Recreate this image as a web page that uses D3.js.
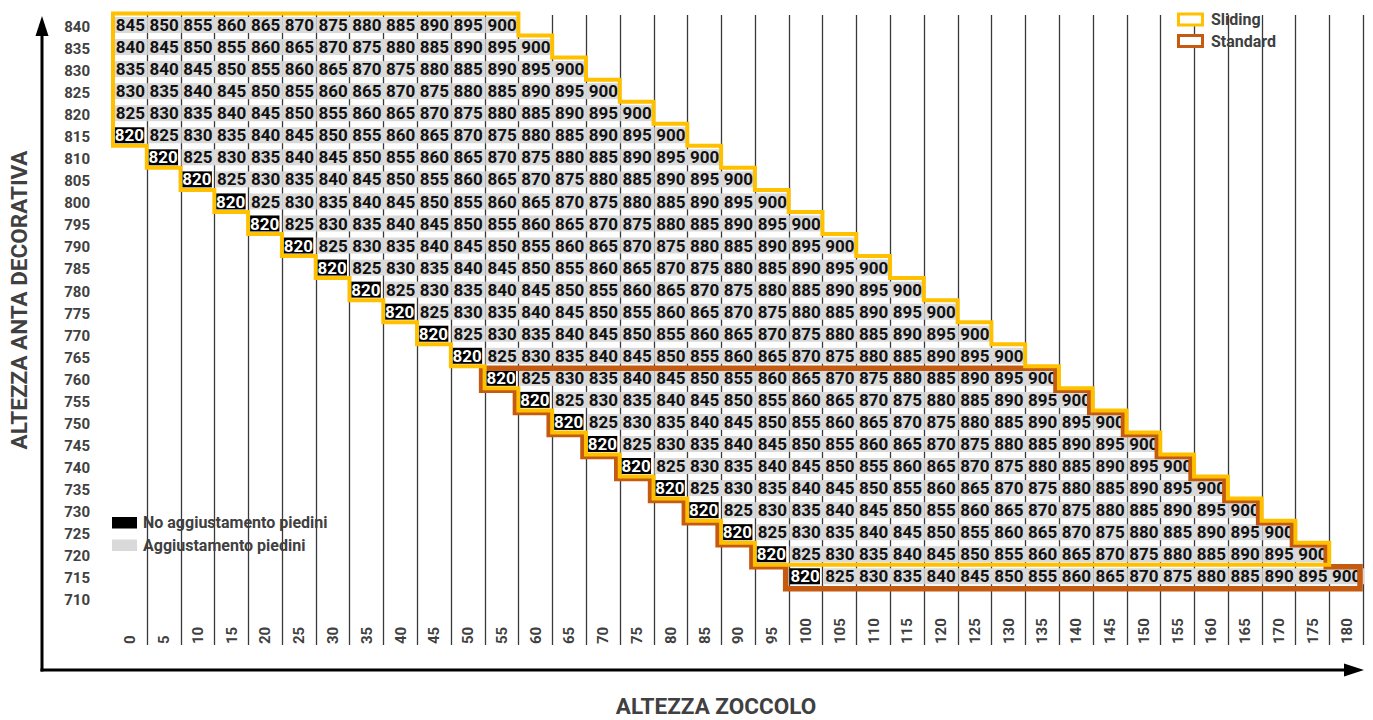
<!DOCTYPE html>
<html>
<head>
<meta charset="utf-8">
<script src="https://cdn.jsdelivr.net/npm/d3@7"></script>
<style>
  body { margin: 0; background: #fff; }
  svg { display: block; font-family: Roboto, "Noto Sans", sans-serif; }
</style>
</head>
<body>
<svg width="1373" height="720"></svg>
<script>
// ---- data ----
const rowLabels = [840, 835, 830, 825, 820, 815, 810, 805, 800, 795, 790, 785, 780, 775,
  770, 765, 760, 755, 750, 745, 740, 735, 730, 725, 720, 715, 710];
const colLabels = [0, 5, 10, 15, 20, 25, 30, 35, 40, 45, 50, 55, 60, 65, 70, 75, 80, 85, 90,
  95, 100, 105, 110, 115, 120, 125, 130, 135, 140, 145, 150, 155, 160, 165, 170, 175, 180];

// first column (zoccolo) where each row of values begins
const rowStartCol = [0, 0, 0, 0, 0, 0, 5, 10, 15, 20, 25, 30, 35, 40, 45, 50, 55, 60, 65, 70,
  75, 80, 85, 90, 95, 100, null];

const rowValues = [
  [845, 850, 855, 860, 865, 870, 875, 880, 885, 890, 895, 900],
  [840, 845, 850, 855, 860, 865, 870, 875, 880, 885, 890, 895, 900],
  [835, 840, 845, 850, 855, 860, 865, 870, 875, 880, 885, 890, 895, 900],
  [830, 835, 840, 845, 850, 855, 860, 865, 870, 875, 880, 885, 890, 895, 900],
  [825, 830, 835, 840, 845, 850, 855, 860, 865, 870, 875, 880, 885, 890, 895, 900],
  [820, 825, 830, 835, 840, 845, 850, 855, 860, 865, 870, 875, 880, 885, 890, 895, 900],
  [820, 825, 830, 835, 840, 845, 850, 855, 860, 865, 870, 875, 880, 885, 890, 895, 900],
  [820, 825, 830, 835, 840, 845, 850, 855, 860, 865, 870, 875, 880, 885, 890, 895, 900],
  [820, 825, 830, 835, 840, 845, 850, 855, 860, 865, 870, 875, 880, 885, 890, 895, 900],
  [820, 825, 830, 835, 840, 845, 850, 855, 860, 865, 870, 875, 880, 885, 890, 895, 900],
  [820, 825, 830, 835, 840, 845, 850, 855, 860, 865, 870, 875, 880, 885, 890, 895, 900],
  [820, 825, 830, 835, 840, 845, 850, 855, 860, 865, 870, 875, 880, 885, 890, 895, 900],
  [820, 825, 830, 835, 840, 845, 850, 855, 860, 865, 870, 875, 880, 885, 890, 895, 900],
  [820, 825, 830, 835, 840, 845, 850, 855, 860, 865, 870, 875, 880, 885, 890, 895, 900],
  [820, 825, 830, 835, 840, 845, 850, 855, 860, 865, 870, 875, 880, 885, 890, 895, 900],
  [820, 825, 830, 835, 840, 845, 850, 855, 860, 865, 870, 875, 880, 885, 890, 895, 900],
  [820, 825, 830, 835, 840, 845, 850, 855, 860, 865, 870, 875, 880, 885, 890, 895, 900],
  [820, 825, 830, 835, 840, 845, 850, 855, 860, 865, 870, 875, 880, 885, 890, 895, 900],
  [820, 825, 830, 835, 840, 845, 850, 855, 860, 865, 870, 875, 880, 885, 890, 895, 900],
  [820, 825, 830, 835, 840, 845, 850, 855, 860, 865, 870, 875, 880, 885, 890, 895, 900],
  [820, 825, 830, 835, 840, 845, 850, 855, 860, 865, 870, 875, 880, 885, 890, 895, 900],
  [820, 825, 830, 835, 840, 845, 850, 855, 860, 865, 870, 875, 880, 885, 890, 895, 900],
  [820, 825, 830, 835, 840, 845, 850, 855, 860, 865, 870, 875, 880, 885, 890, 895, 900],
  [820, 825, 830, 835, 840, 845, 850, 855, 860, 865, 870, 875, 880, 885, 890, 895, 900],
  [820, 825, 830, 835, 840, 845, 850, 855, 860, 865, 870, 875, 880, 885, 890, 895, 900],
  [820, 825, 830, 835, 840, 845, 850, 855, 860, 865, 870, 875, 880, 885, 890, 895, 900],
  []
];

const noAdjustValue = 820;
const slidingRows = [840, 835, 830, 825, 820, 815, 810, 805, 800, 795, 790, 785, 780, 775,
  770, 765, 760, 755, 750, 745, 740, 735, 730, 725, 720];
const standardRows = [760, 755, 750, 745, 740, 735, 730, 725, 720, 715];

const legendItems = ["Sliding", "Standard"];
const cellLegend = ["No aggiustamento piedini", "Aggiustamento piedini"];

// ---- drawing ----
const svg = d3.select("svg");
const labelColor = "#404040";
const yellow = "#FFC000";
const orange = "#C55A11";

const x = d3.scaleBand().domain(colLabels).range([113, 1363]);
const y = d3.scaleBand().domain(rowLabels).range([14, 14 + 27 * 22.05]);

// build cell list
const cells = [];
rowLabels.forEach((r, i) => {
  rowValues[i].forEach((v, j) => {
    cells.push({ row: r, col: rowStartCol[i] + 5 * j, value: v });
  });
});

// vertical column separators
svg.append("g")
  .selectAll("line")
  .data(colLabels)
  .enter()
  .append("line")
  .attr("x1", (d) => Math.round(x(d) + x.bandwidth()) + 0.5)
  .attr("x2", (d) => Math.round(x(d) + x.bandwidth()) + 0.5)
  .attr("y1", 15)
  .attr("y2", 645)
  .attr("stroke", "#3a3a3a")
  .attr("stroke-width", 1.3);

// cells
const cellG = svg.append("g");
const cellH = 16;

cellG.selectAll("rect")
  .data(cells)
  .enter()
  .append("rect")
  .attr("x", (d) => x(d.col) + 1)
  .attr("y", (d) => y(d.row) + y.bandwidth() / 2 - cellH / 2)
  .attr("width", (d) => d.value === noAdjustValue ? x.bandwidth() - 3.5 : x.bandwidth())
  .attr("height", cellH)
  .attr("fill", (d) => d.value === noAdjustValue ? "#000" : "#D9D9D9");

cellG.selectAll("text")
  .data(cells)
  .enter()
  .append("text")
  .attr("x", (d) => x(d.col) + x.bandwidth() / 2 + (d.value === noAdjustValue ? -0.5 : 0.5))
  .attr("y", (d) => y(d.row) + y.bandwidth() / 2)
  .attr("dy", "0.36em")
  .attr("text-anchor", "middle")
  .attr("font-size", 17)
  .attr("font-weight", 700)
  .attr("fill", (d) => d.value === noAdjustValue ? "#fff" : "#111")
  .text((d) => d.value);

// staircase outline around a set of rows
function outline(rows, dx, dy) {
  const pts = [];
  const info = rows.map((r) => {
    const i = rowLabels.indexOf(r);
    const start = rowStartCol[i];
    const end = start + 5 * (rowValues[i].length - 1);
    return {
      left: x(start),
      right: x(end) + x.bandwidth(),
      top: y(r),
      bottom: y(r) + y.bandwidth(),
    };
  });
  info.forEach((d) => {
    pts.push([d.right, d.top]);
    pts.push([d.right, d.bottom]);
  });
  info.slice().reverse().forEach((d) => {
    pts.push([d.left, d.bottom]);
    pts.push([d.left, d.top]);
  });
  return "M" + pts.map((p) => [p[0] + dx, p[1] + dy].join(",")).join("L") + "Z";
}

svg.append("path")
  .attr("d", outline(standardRows, -3, 1.5))
  .attr("fill", "none")
  .attr("stroke", orange)
  .attr("stroke-width", 5.5)
  .attr("stroke-linejoin", "miter");

svg.append("path")
  .attr("d", outline(slidingRows, 0, -0.5))
  .attr("fill", "none")
  .attr("stroke", yellow)
  .attr("stroke-width", 4)
  .attr("stroke-linejoin", "miter");

// row labels (altezza anta)
svg.append("g")
  .selectAll("text")
  .data(rowLabels)
  .enter()
  .append("text")
  .attr("x", 90)
  .attr("y", (d) => y(d) + y.bandwidth() / 2 + 1.5)
  .attr("dy", "0.36em")
  .attr("text-anchor", "end")
  .attr("font-size", 15)
  .attr("font-weight", 700)
  .attr("fill", labelColor)
  .text((d) => d);

// column labels (altezza zoccolo), reading bottom to top
svg.append("g")
  .selectAll("text")
  .data(colLabels)
  .enter()
  .append("text")
  .attr("transform", (d) => `translate(${x(d) + x.bandwidth() / 2}, 644) rotate(-90)`)
  .attr("dy", "0.36em")
  .attr("text-anchor", "start")
  .attr("font-size", 15)
  .attr("font-weight", 700)
  .attr("fill", labelColor)
  .text((d) => d);

// axes arrows
svg.append("line")
  .attr("x1", 42).attr("y1", 671.5).attr("x2", 42).attr("y2", 30)
  .attr("stroke", "#000").attr("stroke-width", 3);
svg.append("path")
  .attr("d", "M42,16L35.5,36L48.5,36Z")
  .attr("fill", "#000");
svg.append("line")
  .attr("x1", 40.5).attr("y1", 670).attr("x2", 1350).attr("y2", 670)
  .attr("stroke", "#000").attr("stroke-width", 3);
svg.append("path")
  .attr("d", "M1364,670L1344,663.5L1344,676.5Z")
  .attr("fill", "#000");

// axis titles
svg.append("text")
  .attr("transform", "translate(19, 300) rotate(-90)")
  .attr("dy", "0.36em")
  .attr("text-anchor", "middle")
  .attr("font-size", 22.5)
  .attr("font-weight", 700)
  .attr("fill", labelColor)
  .text("ALTEZZA ANTA DECORATIVA");

svg.append("text")
  .attr("x", 716)
  .attr("y", 706)
  .attr("dy", "0.36em")
  .attr("text-anchor", "middle")
  .attr("font-size", 22.5)
  .attr("font-weight", 700)
  .attr("fill", labelColor)
  .text("ALTEZZA ZOCCOLO");

// legend: outlines
const legendColors = [yellow, orange];
const lg = svg.append("g");
legendItems.forEach((name, i) => {
  lg.append("rect")
    .attr("x", 1178.5)
    .attr("y", 14 + i * 21.5)
    .attr("width", 24)
    .attr("height", 11)
    .attr("fill", "#fff")
    .attr("stroke", legendColors[i])
    .attr("stroke-width", 3);
  lg.append("text")
    .attr("x", 1211)
    .attr("y", 19.5 + i * 21.5)
    .attr("dy", "0.36em")
    .attr("font-size", 16)
    .attr("font-weight", 700)
    .attr("fill", labelColor)
    .text(name);
});

// legend: cell colours
const cellLegendColors = ["#000", "#D9D9D9"];
const cl = svg.append("g");
cellLegend.forEach((name, i) => {
  cl.append("rect")
    .attr("x", 112)
    .attr("y", 517 + i * 22.5)
    .attr("width", 25)
    .attr("height", 11.5)
    .attr("fill", cellLegendColors[i]);
  cl.append("text")
    .attr("x", 143)
    .attr("y", 522.5 + i * 22.5)
    .attr("dy", "0.36em")
    .attr("font-size", 16)
    .attr("font-weight", 700)
    .attr("fill", labelColor)
    .text(name);
});
</script>
</body>
</html>
